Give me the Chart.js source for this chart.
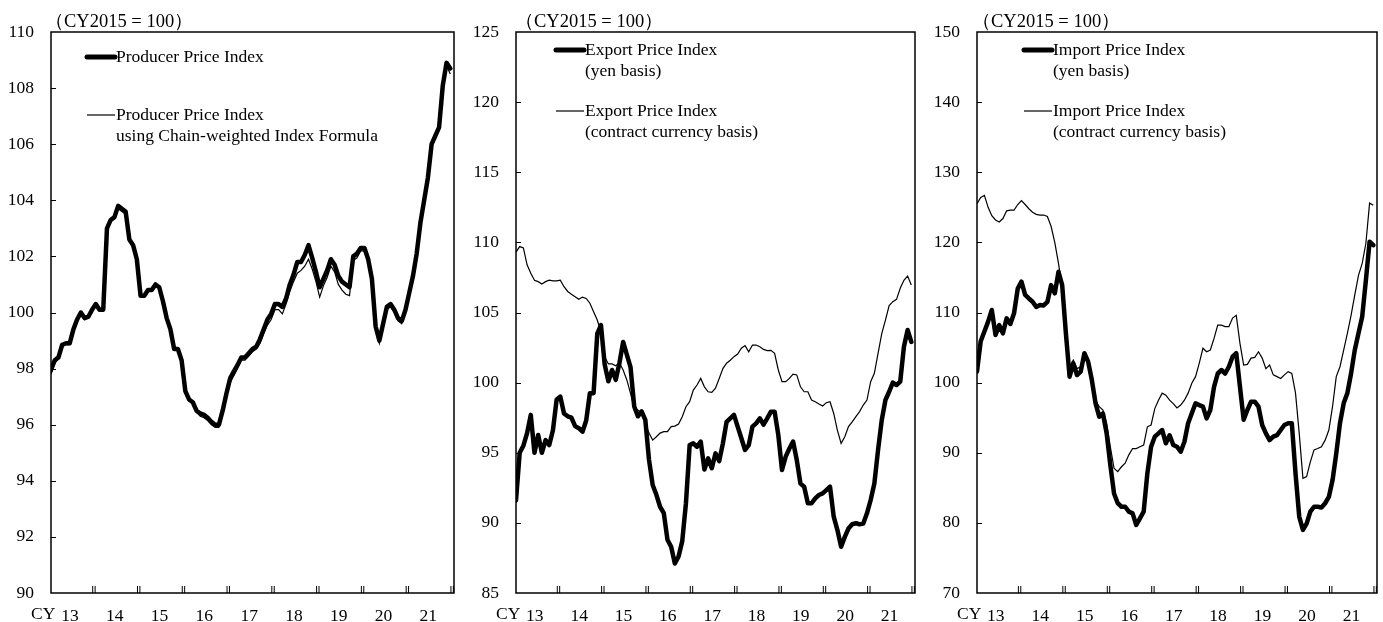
<!DOCTYPE html>
<html><head><meta charset="utf-8">
<script src="https://cdn.jsdelivr.net/npm/chart.js@4.4.0/dist/chart.umd.min.js"></script>
<style>
html,body{margin:0;padding:0;background:#fff;}
body{width:1383px;height:622px;position:relative;overflow:hidden;}
.p{position:absolute;top:0;height:622px;}
</style></head><body>
<div class="p" style="left:0;width:460px"><canvas id="c1" width="460" height="622"></canvas></div>
<div class="p" style="left:460px;width:460px"><canvas id="c2" width="460" height="622"></canvas></div>
<div class="p" style="left:920px;width:463px"><canvas id="c3" width="463" height="622"></canvas></div>
<script>
// ---- data (monthly, Jan 2013 - Dec 2021) ----
const YEAR_LABELS = ['13','14','15','16','17','18','19','20','21'];

const ppi = [
 97.95,98.3,98.4,98.85,98.9,98.9,99.4,99.75,100.0,99.8,99.85,100.1,
 100.3,100.1,100.1,103.0,103.3,103.4,103.8,103.7,103.6,102.6,102.4,101.9,
 100.6,100.6,100.8,100.8,101.0,100.9,100.4,99.8,99.4,98.7,98.7,98.3,
 97.2,96.9,96.8,96.5,96.4,96.35,96.25,96.1,96.0,96.0,96.5,97.1,
 97.65,97.9,98.13,98.4,98.4,98.55,98.7,98.78,99.05,99.4,99.75,99.95,
 100.3,100.3,100.2,100.5,101.0,101.35,101.8,101.8,102.05,102.4,101.95,101.45,
 100.9,101.2,101.5,101.9,101.7,101.3,101.1,101.0,100.9,102.0,102.1,102.3,
 102.3,101.9,101.2,99.5,99.0,99.6,100.2,100.3,100.1,99.8,99.7,100.1,
 100.7,101.3,102.1,103.2,104.0,104.8,106.0,106.3,106.6,108.1,108.9,108.7];
const ppiChain = [
 97.8,98.2,98.35,98.8,98.85,98.85,99.35,99.7,99.95,99.75,99.8,100.05,
 100.25,100.05,100.05,102.95,103.25,103.35,103.7,103.6,103.5,102.55,102.35,101.85,
 100.55,100.55,100.75,100.75,100.95,100.85,100.35,99.75,99.35,98.65,98.65,98.25,
 97.15,96.85,96.75,96.45,96.3,96.25,96.15,96.0,95.9,95.9,96.4,97.0,
 97.5,97.75,98.0,98.3,98.3,98.45,98.6,98.7,98.9,99.25,99.55,99.75,
 100.1,100.1,99.95,100.3,100.75,101.1,101.4,101.5,101.65,101.9,101.55,101.1,
 100.55,100.95,101.25,101.65,101.45,101.0,100.8,100.65,100.6,101.85,101.95,102.2,
 102.2,101.8,101.1,99.4,98.9,99.5,100.1,100.2,100.0,99.7,99.6,100.0,
 100.6,101.2,102.0,103.1,103.9,104.7,105.9,106.2,106.5,108.0,108.8,108.5];

const exportYen = [
 91.6,95.0,95.5,96.4,97.7,95.0,96.27,95.0,95.9,95.55,96.6,98.8,
 99.0,97.8,97.6,97.5,96.9,96.75,96.5,97.3,99.25,99.25,103.5,104.1,
 101.3,100.1,100.9,100.2,101.4,102.9,102.0,101.1,98.3,97.6,97.95,97.35,
 94.5,92.7,92.0,91.15,90.7,88.8,88.3,87.1,87.6,88.7,91.4,95.55,
 95.67,95.43,95.8,93.8,94.6,93.9,94.96,94.4,95.67,97.2,97.45,97.7,
 96.86,96.03,95.2,95.55,96.86,97.1,97.45,97.0,97.45,97.93,97.93,96.27,
 93.77,94.72,95.3,95.8,94.48,92.8,92.58,91.4,91.4,91.75,91.99,92.1,
 92.34,92.58,90.44,89.49,88.3,89.0,89.6,89.9,89.97,89.9,89.95,90.68,
 91.63,92.8,95.2,97.33,98.76,99.35,100.0,99.83,100.07,102.56,103.75,102.9];
const exportContract = [
 109.3,109.7,109.6,108.4,107.8,107.3,107.2,107.03,107.2,107.3,107.25,107.25,
 107.3,106.84,106.5,106.3,106.13,105.94,106.1,106.0,105.66,105.06,104.46,103.6,
 101.85,101.33,101.33,101.2,101.4,100.9,100.19,99.24,98.17,98.05,97.8,97.1,
 96.4,95.9,96.14,96.4,96.5,96.5,96.86,96.9,97.05,97.57,98.28,98.64,
 99.47,99.83,100.3,99.7,99.35,99.3,99.6,100.3,101.0,101.38,101.6,101.85,
 102.04,102.45,102.64,102.2,102.68,102.68,102.56,102.37,102.28,102.3,102.09,100.9,
 100.07,100.07,100.3,100.6,100.55,99.7,99.35,99.35,98.76,98.64,98.48,98.33,
 98.57,98.64,97.8,96.6,95.67,96.14,96.86,97.2,97.57,97.93,98.4,98.76,
 100.07,100.66,102.09,103.5,104.46,105.5,105.77,105.94,106.73,107.3,107.6,106.96];

const importYen = [
 101.6,105.9,107.3,108.7,110.36,106.8,108.2,107.03,109.17,108.36,109.88,113.4,
 114.4,112.5,112.0,111.54,110.8,111.07,111.0,111.5,113.9,112.74,115.8,113.9,
 107.03,100.85,102.75,101.09,101.57,104.2,103.0,100.4,97.08,95.14,95.6,92.78,
 88.25,84.2,82.8,82.3,82.3,81.6,81.36,79.7,80.65,81.6,87.07,90.86,
 92.29,92.77,93.24,91.35,92.5,91.1,90.86,90.15,91.57,94.2,95.62,97.05,
 96.8,96.57,94.9,96.1,99.4,101.3,101.8,101.3,102.27,103.7,104.2,99.4,
 94.7,96.1,97.28,97.28,96.57,93.96,92.77,91.8,92.3,92.5,93.24,93.96,
 94.2,94.2,87.07,80.9,79.0,79.9,81.6,82.3,82.3,82.2,82.8,83.7,
 86.1,89.9,94.2,97.05,98.5,101.3,104.65,107.03,109.4,114.6,120.1,119.6];
const importContract = [
 125.5,126.4,126.7,125.0,123.8,123.2,122.9,123.4,124.5,124.6,124.6,125.4,
 125.95,125.4,124.8,124.3,124.0,123.9,123.9,123.7,122.3,120.0,117.0,113.6,
 107.5,102.27,103.2,102.0,102.27,103.7,102.75,100.85,97.5,96.57,96.1,94.2,
 90.86,87.78,87.3,88.0,88.5,89.7,90.6,90.6,90.86,91.1,93.7,93.96,
 96.3,97.5,98.5,98.2,97.5,97.0,96.4,96.8,97.5,98.5,99.9,100.85,
 102.75,104.9,104.4,104.65,106.3,108.2,108.2,107.98,107.98,109.2,109.6,105.6,
 102.5,102.6,103.5,103.6,104.4,103.5,102.0,102.5,101.1,100.85,100.6,101.1,
 101.57,101.3,98.5,92.77,86.35,86.6,88.7,90.4,90.6,90.86,91.8,93.24,
 96.6,100.85,102.27,104.65,107.03,109.6,112.5,115.3,117.0,119.87,125.6,125.3];

const TITLE = '（CY2015 = 100）';
const LEGENDS = [
  [['Producer Price Index'], ['Producer Price Index','using Chain-weighted Index Formula']],
  [['Export Price Index','(yen basis)'], ['Export Price Index','(contract currency basis)']],
  [['Import Price Index','(yen basis)'], ['Import Price Index','(contract currency basis)']]
];

const SERIF = '"Liberation Serif","Times New Roman",serif';

const framePlugin = {
  id: 'frame',
  afterDraw(chart) {
    const o = chart.options.plugins.frame;
    const {ctx, chartArea: a, scales: {x, y}} = chart;
    ctx.save();
    ctx.strokeStyle = '#000';
    ctx.lineWidth = 1.5;
    ctx.strokeRect(a.left, a.top, a.right - a.left, a.bottom - a.top);
    // inward y tick marks
    ctx.lineWidth = 1;
    y.ticks.forEach(t => {
      if (t.value > y.min && t.value < y.max) {
        const py = Math.round(y.getPixelForValue(t.value)) + 0.5;
        ctx.beginPath(); ctx.moveTo(a.left, py); ctx.lineTo(a.left + 5, py); ctx.stroke();
      }
    });
    // double tick marks at year boundaries
    YEAR_LABELS.forEach((_, k) => {
      const px = x.getPixelForValue(12 * (k + 1) - 0.5);
      [-1.2, 1.2].forEach(d => {
        ctx.beginPath(); ctx.moveTo(px + d, a.bottom); ctx.lineTo(px + d, a.bottom - 7); ctx.stroke();
      });
    });
    // CY text
    ctx.fillStyle = '#000';
    ctx.font = '17.5px ' + SERIF;
    ctx.textAlign = 'left';
    ctx.textBaseline = 'middle';
    ctx.fillText('CY', a.left - 20, a.bottom + 21);
    // title
    ctx.font = '18.5px ' + SERIF;
    ctx.fillText(TITLE, a.left + o.titleDx, 22);
    // legend
    ctx.font = '17.5px ' + SERIF;
    const lx = a.left + o.legDx;
    o.legend.forEach((lines, j) => {
      const ly = o.legY[j];
      ctx.lineWidth = j === 0 ? 5 : 1.2;
      ctx.lineCap = j === 0 ? 'round' : 'butt';
      ctx.beginPath(); ctx.moveTo(lx, ly); ctx.lineTo(lx + 28, ly); ctx.stroke();
      lines.forEach((t, m) => ctx.fillText(t, lx + 29, ly + m * 21.5));
    });
    ctx.restore();
  }
};

function makeChart(id, thick, thin, yMin, yMax, step, yWidth, rightPad, titleDx, legDx, legY, legend) {
  const pts = arr => arr.map((v, i) => ({x: i, y: v}));
  new Chart(document.getElementById(id), {
    type: 'line',
    data: {
      datasets: [
        {data: pts(thin), borderColor: '#000', borderWidth: 1.2, pointRadius: 0, tension: 0},
        {data: pts(thick), borderColor: '#000', borderWidth: 4.5, pointRadius: 0, tension: 0,
         borderJoinStyle: 'round', borderCapStyle: 'round'}
      ]
    },
    options: {
      responsive: false, animation: false,
      layout: {padding: {top: 32, right: rightPad, left: 0, bottom: 0}},
      plugins: {legend: {display: false}, tooltip: {enabled: false},
        frame: {titleDx, legDx, legY, legend}},
      scales: {
        x: {
          type: 'linear', min: 0, max: 108,
          grid: {display: false, drawTicks: false}, border: {display: false},
          afterBuildTicks: s => { s.ticks = YEAR_LABELS.map((_, k) => ({value: 12 * k + 5.5})); },
          afterFit: s => { s.height = 29; },
          ticks: {
            autoSkip: false, maxRotation: 0, padding: 13, labelOffset: -1.5,
            color: '#000', font: {family: SERIF, size: 17.5},
            callback: (v, i) => YEAR_LABELS[i]
          }
        },
        y: {
          min: yMin, max: yMax,
          grid: {display: false, drawTicks: false}, border: {display: false},
          afterFit: s => { s.width = yWidth; },
          ticks: {stepSize: step, padding: 17, color: '#000', font: {family: SERIF, size: 17.5}}
        }
      }
    },
    plugins: [framePlugin]
  });
}

makeChart('c1', ppi, ppiChain, 90, 110, 2, 51, 6, -6, 36, [57, 115], LEGENDS[0]);
makeChart('c2', exportYen, exportContract, 85, 125, 5, 56, 5, -1, 40, [50, 111], LEGENDS[1]);
makeChart('c3', importYen, importContract, 70, 150, 10, 57, 6, -5, 47, [50, 111], LEGENDS[2]);
</script>
</body></html>
